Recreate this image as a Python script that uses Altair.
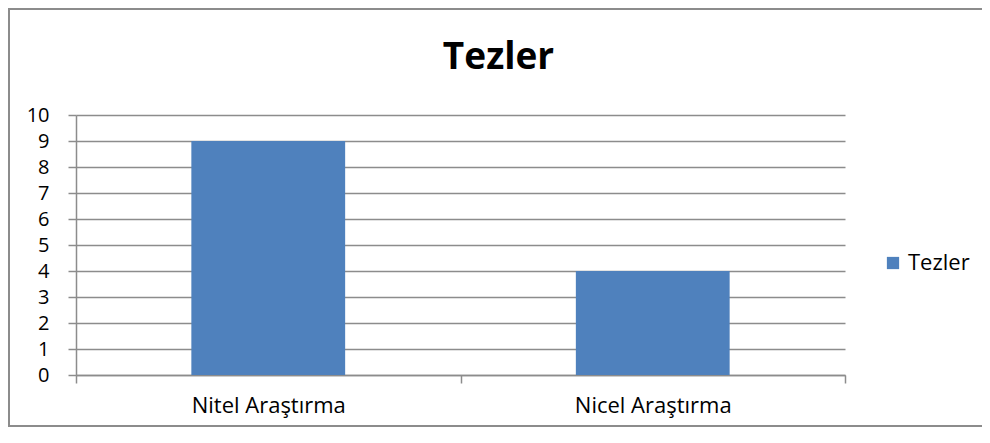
import altair as alt
import pandas as pd

categories = ["Nitel Araştırma", "Nicel Araştırma"]
values = [9, 4]
series = "Tezler"

df = pd.DataFrame({"kategori": categories, "deger": values, "seri": [series] * len(categories)})

FONT = "Open Sans"
GRID = "#8c8c8c"
BLUE = "#4F81BD"

bars = alt.Chart(df).mark_bar(color=BLUE, width={"band": 0.4}).encode(
    x=alt.X("kategori:N", sort=categories, title=None,
            scale=alt.Scale(paddingInner=0, paddingOuter=0),
            axis=alt.Axis(labelAngle=0, tickBand="extent", labelFontSize=22,
                          labelFont=FONT, labelColor="#000", tickSize=8,
                          tickColor=GRID, domainColor=GRID, tickWidth=1.5,
                          domainWidth=1.5, labelPadding=12, grid=False)),
    y=alt.Y("deger:Q", title=None,
            scale=alt.Scale(domain=[0, 10]),
            axis=alt.Axis(values=list(range(0, 11)), tickSize=8, labelFontSize=20,
                          labelFont=FONT, labelColor="#000", labelPadding=19,
                          tickColor=GRID, domainColor=GRID, gridColor=GRID,
                          gridWidth=1.5, tickWidth=1.5, domainWidth=1.5)),
    fill=alt.Fill("seri:N", scale=alt.Scale(range=[BLUE]),
                  legend=alt.Legend(title=None, orient="none", legendX=806, legendY=137,
                                    symbolType="square", symbolSize=150,
                                    symbolStrokeWidth=0, labelFontSize=22,
                                    labelFont=FONT, labelColor="#000", labelOffset=4)),
)

frame = alt.Chart(df).mark_rect(fillOpacity=0, stroke="#8c8c8c", strokeWidth=2).encode(
    x=alt.value(-67), x2=alt.value(1000), y=alt.value(-106), y2=alt.value(311)
)

chart = alt.layer(frame, bars).properties(
    width=769, height=260,
    padding={"left": 68, "top": 107, "right": 137, "bottom": 52},
    autosize=alt.AutoSizeParams(type="none"),
    title=alt.TitleParams("Tezler", font=FONT, fontSize=37, fontWeight="bold",
                          color="#000", anchor="middle", dx=38, offset=-69),
).configure_view(stroke=None)

chart.save("out.html", embed_options={"renderer": "svg", "actions": False})
